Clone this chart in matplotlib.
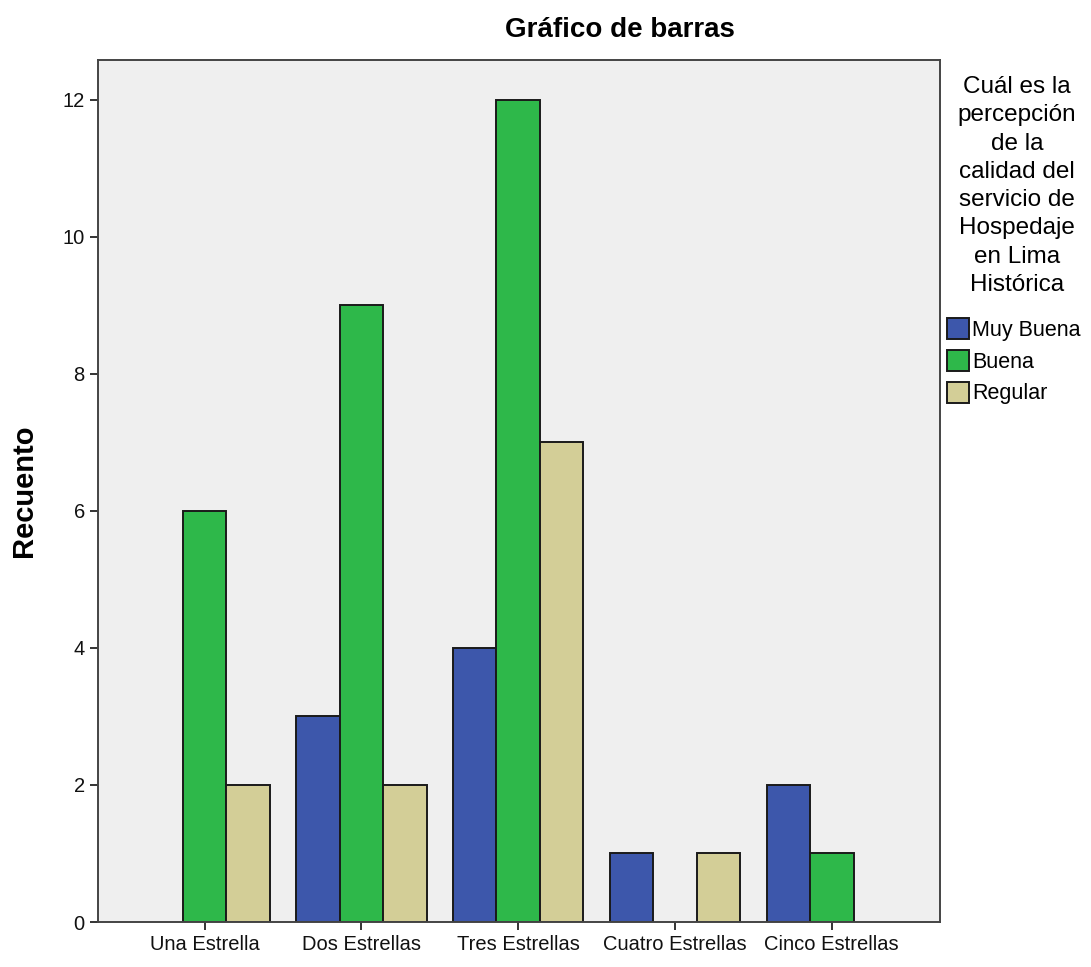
import numpy as np
import matplotlib
matplotlib.use("Agg")
import matplotlib.pyplot as plt

plt.rcParams["font.family"] = ["Liberation Sans", "DejaVu Sans"]

categories = ["Una Estrella", "Dos Estrellas", "Tres Estrellas",
              "Cuatro Estrellas", "Cinco Estrellas"]
series_names = ["Muy Buena", "Buena", "Regular"]
muy_buena = [0, 3, 4, 1, 2]
buena = [6, 9, 12, 0, 1]
regular = [2, 2, 7, 1, 0]
colors = ["#3D57AB", "#2EB84A", "#D3CE97"]

legend_title = ("Cuál es la\npercepción\nde la\ncalidad del\nservicio de\n"
                "Hospedaje\nen Lima\nHistórica")

fig = plt.figure(figsize=(10.91, 9.67), dpi=100)
ax = fig.add_axes([98 / 1091, 1 - 922 / 967, 842 / 1091, 862 / 967])
ax.set_facecolor("#EFEFEF")

x = np.arange(len(categories))
width = 0.277
handles = []
for i, vals in enumerate([muy_buena, buena, regular]):
    offs = (i - 1) * width
    vals = np.array(vals, dtype=float)
    mask = vals > 0
    ax.bar(x[mask] + offs, vals[mask], width, color=colors[i],
           edgecolor="#1a1a1a", linewidth=1.4)
    handles.append(plt.Rectangle((0, 0), 1, 1, facecolor=colors[i],
                                 edgecolor="#1a1a1a", linewidth=1.4))

ax.set_xlim(-0.68, 4.69)
ax.set_ylim(0, 12.58)
ax.set_yticks(range(0, 13, 2))
ax.set_xticks(x)
ax.set_xticklabels(categories)
ax.tick_params(axis="both", labelsize=14.5, color="#333333", width=1.4,
               length=6, colors="#111111")
for sp in ax.spines.values():
    sp.set_color("#444444")
    sp.set_linewidth(1.4)

ax.set_ylabel("Recuento", fontsize=21, fontweight="bold", labelpad=18)
fig.text(620 / 1091, 1 - 30 / 967, "Gráfico de barras", fontsize=20,
         fontweight="bold", ha="center", va="center")

fig.text(1017 / 1091, 1 - 76 / 967, legend_title, fontsize=17.5,
         ha="center", va="top", multialignment="center", linespacing=1.37)
fig.legend(handles, series_names, loc="upper left",
           bbox_to_anchor=(941 / 1091, 1 - 312 / 967), frameon=False,
           fontsize=15.5, handlelength=1.0, handleheight=1.1,
           handletextpad=0.15, labelspacing=0.42, borderaxespad=0,
           borderpad=0.3)

fig.savefig("out.png", dpi=100)
